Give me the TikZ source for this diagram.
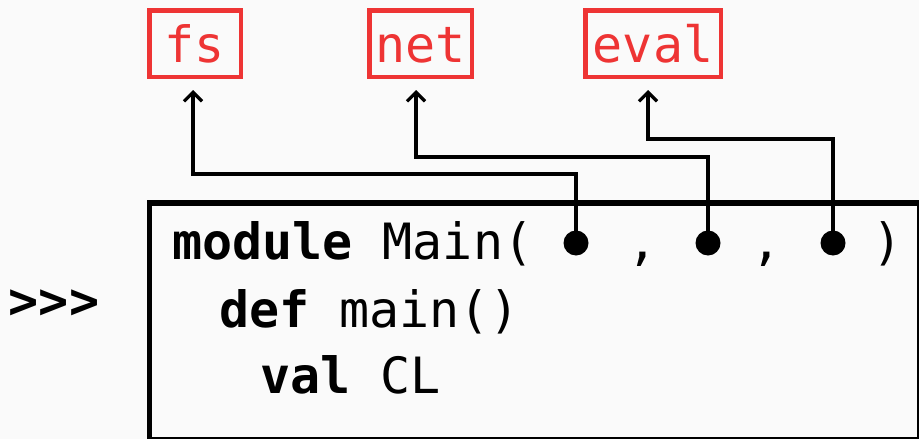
\documentclass[tikz,border=0pt]{standalone}
\usepackage{fontspec}
\setmonofont{DejaVu Sans Mono}
\usetikzlibrary{arrows.meta}
\definecolor{bg}{RGB}{250,250,250}
\definecolor{lblred}{RGB}{238,52,52}
\begin{document}
\begin{tikzpicture}[x=1pt,y=-1pt,
  lbox/.style={draw=lblred, line width=4.5pt, text=lblred, inner sep=0pt, outer sep=0pt,
    minimum height=66.5pt, text height=37pt, text depth=0pt,
    font=\ttfamily\fontsize{50}{60}\selectfont},
  code/.style={inner sep=0pt, outer sep=0pt, anchor=base west,
    font=\ttfamily\fontsize{50}{60}\selectfont},
  dotnode/.style={circle, fill=black, inner sep=0pt, minimum size=25pt},
  conn/.style={line width=3.2pt, -{Straight Barb[length=9pt,width=18pt]}}
]
\useasboundingbox[fill=bg] (0,0) rectangle (919,439);
% label boxes
\node[lbox, minimum width=91.5pt] (fs) at (195,43.5) {fs};
\node[lbox, minimum width=102.5pt] (net) at (420.5,43.5) {net};
\node[lbox, minimum width=135.5pt] (eval) at (653,43.5) {eval};
% code box
\node[draw, line width=5.5pt, inner sep=0pt, outer sep=0pt, anchor=north west,
  minimum width=770pt, minimum height=237pt] (codebox) at (149.7,203) {};
% prompt
\node[inner sep=0pt, font=\ttfamily\bfseries\fontsize{50}{60}\selectfont] (prompt) at (54,304) {>>>};
% code lines
\node[code] (l1) at (172,259) {\textbf{module} Main(};
\node[code] (l2) at (219,327) {\textbf{def} main()};
\node[code] (l3) at (260,393) {\textbf{val} CL};
\node[code, anchor=base] (c1) at (643,259) {,};
\node[code, anchor=base] (c2) at (767,259) {,};
\node[code, anchor=base] (cp) at (888,259) {)};
% dots
\node[dotnode] (d1) at (576,243) {};
\node[dotnode] (d2) at (708,243) {};
\node[dotnode] (d3) at (833,243) {};
% connectors
\draw[conn] (d1.center) -- ++(0,-69) -| ([xshift=-2pt,yshift=-13.25pt]fs.south);
\draw[conn] (d2.center) -- ++(0,-86) -| ([xshift=-4.5pt,yshift=-13.25pt]net.south);
\draw[conn] (d3.center) -- ++(0,-104) -| ([xshift=-5pt,yshift=-13.25pt]eval.south);
\end{tikzpicture}
\end{document}
